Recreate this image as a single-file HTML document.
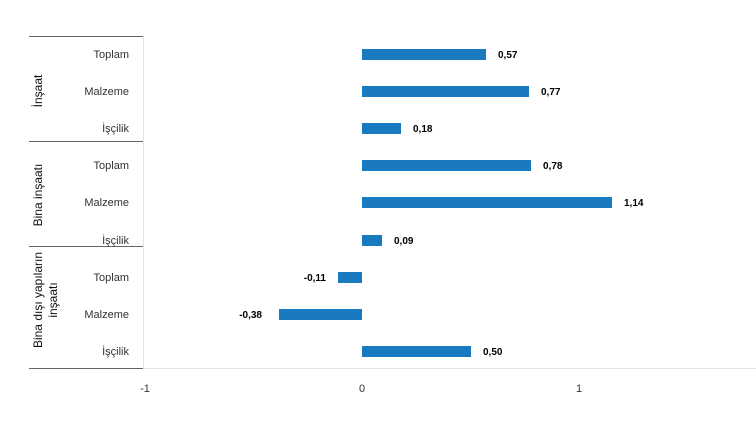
<!DOCTYPE html>
<html><head><meta charset="utf-8"><style>
body{margin:0;width:756px;height:420px;background:#fff;overflow:hidden}
svg{font-family:"Liberation Sans",sans-serif}
</style></head><body>
<svg width="756" height="420" xmlns="http://www.w3.org/2000/svg">
<g stroke="#666" stroke-width="1">
<line x1="29" y1="36.5" x2="143" y2="36.5"/>
<line x1="29" y1="141.5" x2="143" y2="141.5"/>
<line x1="29" y1="246.5" x2="143" y2="246.5"/>
<line x1="29" y1="368.5" x2="143" y2="368.5"/>
</g>
<line x1="143.5" y1="36" x2="143.5" y2="369" stroke="#e4e4e4"/>
<line x1="143" y1="368.5" x2="756" y2="368.5" stroke="#e4e4e4"/>
<g font-size="11" fill="#333" text-anchor="end">
<text x="129" y="58">Toplam</text>
<text x="129" y="95">Malzeme</text>
<text x="129" y="132">İşçilik</text>
<text x="129" y="169">Toplam</text>
<text x="129" y="206">Malzeme</text>
<text x="129" y="244">İşçilik</text>
<text x="129" y="281">Toplam</text>
<text x="129" y="318">Malzeme</text>
<text x="129" y="355">İşçilik</text>
</g>
<g font-size="12" fill="#111" text-anchor="middle">
<text transform="translate(42,91) rotate(-90)">İnşaat</text>
<text transform="translate(42,195) rotate(-90)">Bina inşaatı</text>
<text transform="translate(42,300) rotate(-90)">Bina dışı yapıların</text>
<text transform="translate(57,300) rotate(-90)">inşaatı</text>
</g>
<g fill="#1a7abf">
<rect x="362" y="49" width="124" height="11"/>
<rect x="362" y="86" width="167" height="11"/>
<rect x="362" y="123" width="39" height="11"/>
<rect x="362" y="160" width="169" height="11"/>
<rect x="362" y="197" width="250" height="11"/>
<rect x="362" y="235" width="20" height="11"/>
<rect x="338" y="272" width="24" height="11"/>
<rect x="279" y="309" width="83" height="11"/>
<rect x="362" y="346" width="109" height="11"/>
</g>
<g font-size="10" font-weight="bold" fill="#000">
<text x="498" y="58">0,57</text>
<text x="541" y="95">0,77</text>
<text x="413" y="132">0,18</text>
<text x="543" y="169">0,78</text>
<text x="624" y="206">1,14</text>
<text x="394" y="244">0,09</text>
<text x="326" y="281" text-anchor="end">-0,11</text>
<text x="262" y="318" text-anchor="end">-0,38</text>
<text x="483" y="355">0,50</text>
</g>
<g font-size="11" fill="#333" text-anchor="middle">
<text x="145" y="392">-1</text>
<text x="362" y="392">0</text>
<text x="579" y="392">1</text>
</g>
</svg>
</body></html>
